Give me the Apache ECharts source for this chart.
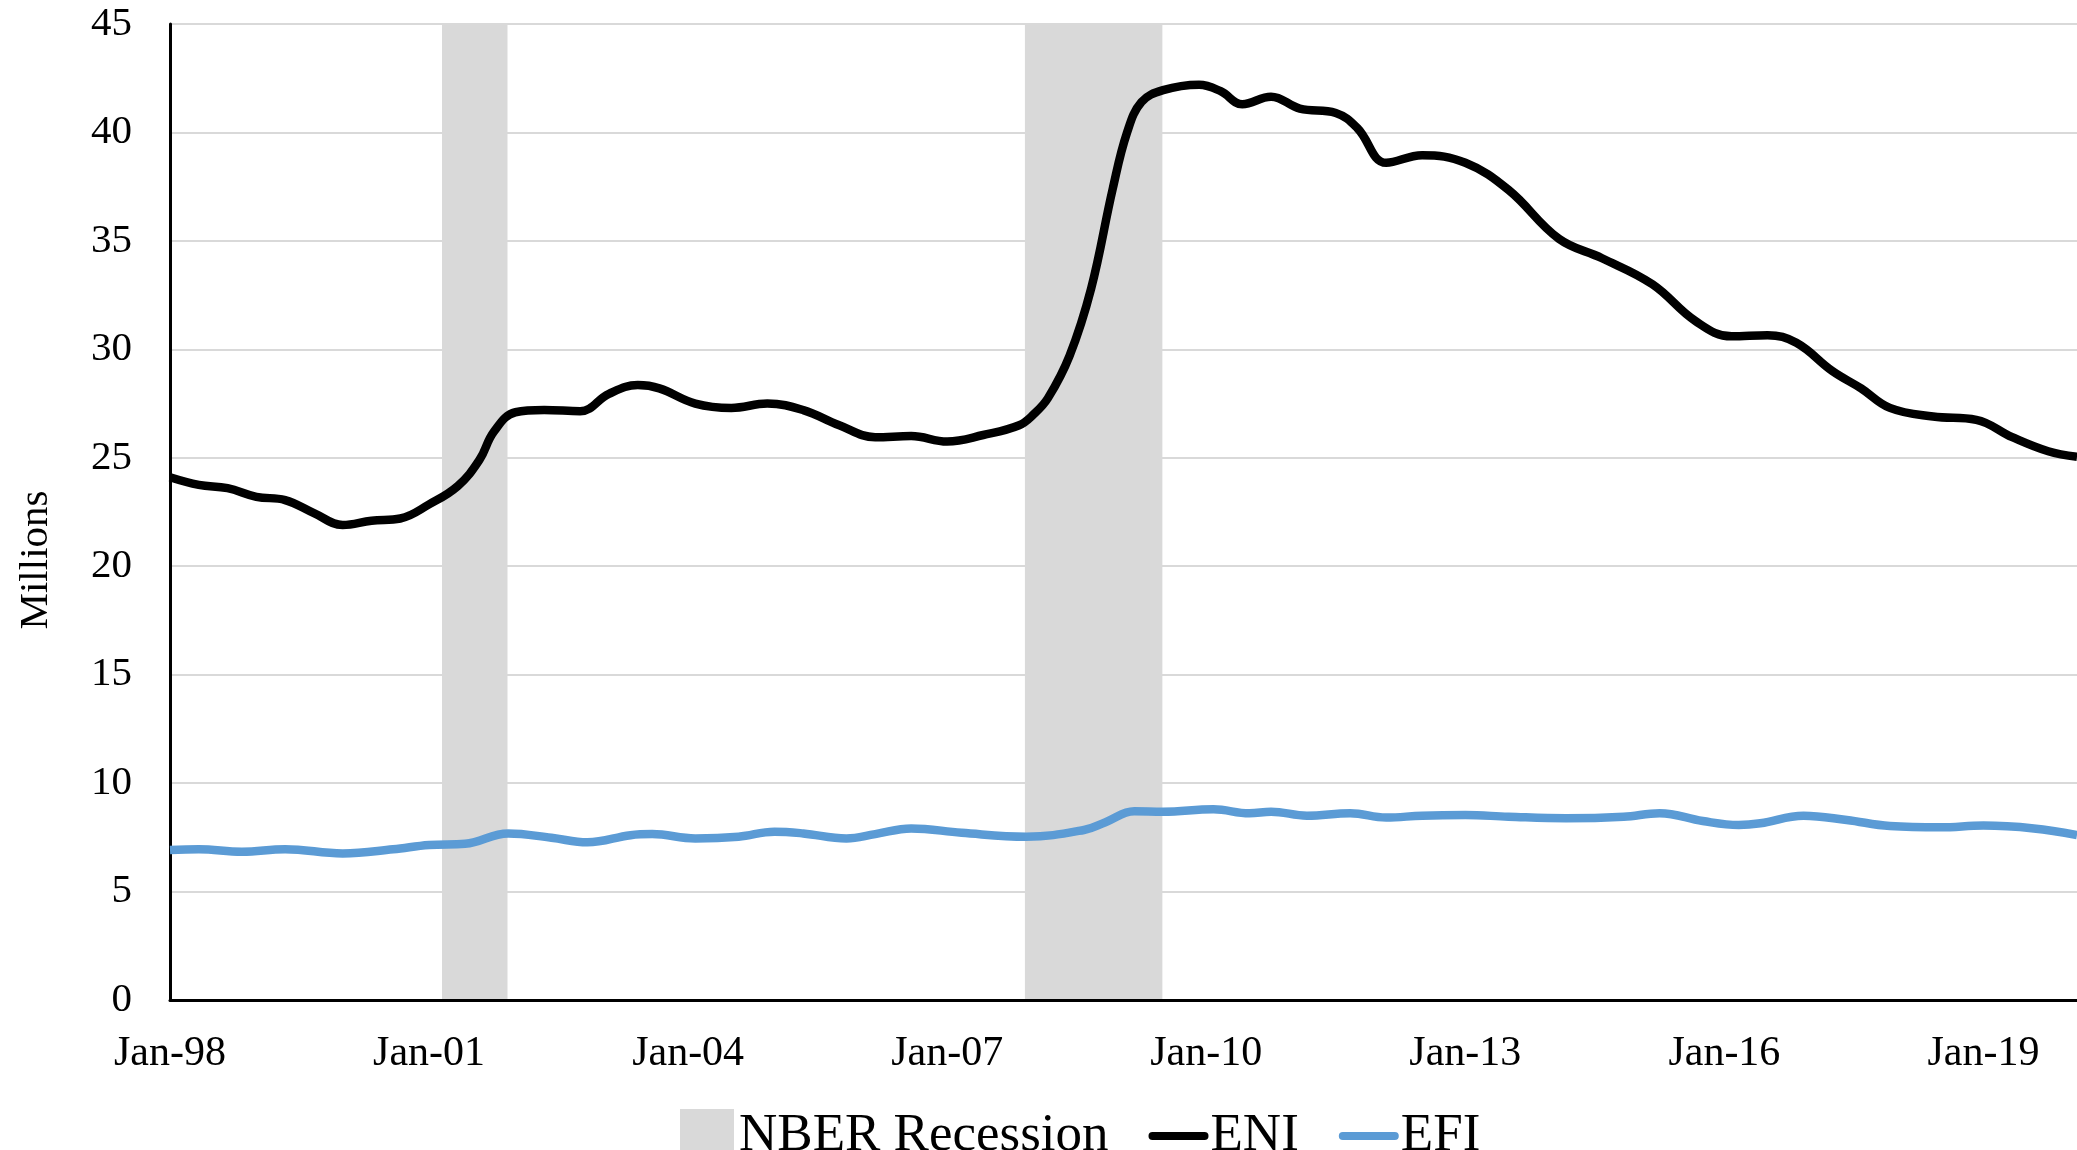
<!DOCTYPE html>
<html>
<head>
<meta charset="utf-8">
<script src="https://cdn.jsdelivr.net/npm/echarts@6/dist/echarts.min.js"></script>
<style>
  html, body { margin: 0; padding: 0; background: #ffffff; }
  #chart { width: 2077px; height: 1150px; }
</style>
</head>
<body>
<div id="chart"></div>
<script>
// ---- Data ----
const xTickLabels = ['Jan-98', 'Jan-01', 'Jan-04', 'Jan-07', 'Jan-10', 'Jan-13', 'Jan-16', 'Jan-19'];
const yTicks = [0, 5, 10, 15, 20, 25, 30, 35, 40, 45];

const eniDates = ['1998-01','1998-05','1998-09','1999-01','1999-05','1999-09','2000-01','2000-05','2000-09',
  '2001-01','2001-05','2001-08','2001-10','2002-01','2002-05','2002-10','2003-02','2003-06','2003-09',
  '2004-02','2004-07','2004-12','2005-05','2005-10','2006-03','2006-08','2007-01','2007-06','2007-11',
  '2008-01','2008-03','2008-06','2008-09','2008-12','2009-02','2009-04','2009-07','2009-12','2010-03',
  '2010-06','2010-10','2011-02','2011-07','2011-10','2012-02','2012-07','2013-01','2013-07','2014-02',
  '2014-08','2015-03','2015-09','2016-02','2016-07','2016-11','2017-04','2017-08','2017-12','2018-06',
  '2018-12','2019-05','2019-10','2020-02'];
const eniValues = [24.1,23.75,23.6,23.2,23.05,22.45,21.9,22.1,22.2,
  22.85,23.7,24.9,26.2,27.1,27.2,27.15,27.95,28.35,28.2,
  27.5,27.3,27.5,27.2,26.5,25.95,26.0,25.75,26.05,26.5,
  27.0,27.75,29.7,32.8,37.4,40.0,41.4,41.95,42.2,41.9,
  41.3,41.65,41.1,40.9,40.2,38.6,38.95,38.6,37.35,35.1,
  34.2,33.0,31.3,30.6,30.65,30.3,29.0,28.2,27.3,26.9,
  26.75,25.95,25.3,25.05];

const efiDates = ['1998-01','1998-05','1998-11','1999-05','2000-01','2000-08','2001-01','2001-06','2001-12',
  '2002-06','2002-11','2003-05','2003-08','2004-02','2004-08','2005-01','2005-05','2005-11','2006-03',
  '2006-08','2007-03','2007-12','2008-08','2008-11','2009-03','2009-07','2010-02','2010-07','2010-10',
  '2011-03','2011-09','2012-02','2012-07','2013-01','2013-07','2014-03','2014-11','2015-04','2015-10',
  '2016-03','2016-06','2016-12','2017-06','2017-12','2018-07','2019-01','2019-08','2020-02'];
const efiValues = [6.92,6.95,6.84,6.95,6.76,6.95,7.15,7.2,7.68,
  7.48,7.27,7.6,7.65,7.45,7.53,7.76,7.68,7.45,7.65,
  7.91,7.71,7.53,7.84,8.2,8.7,8.68,8.79,8.61,8.68,
  8.5,8.61,8.41,8.5,8.53,8.45,8.38,8.45,8.61,8.25,
  8.07,8.15,8.5,8.3,8.02,7.96,8.04,7.91,7.61];

const recessionStarts = ['2001-03', '2007-12'];
const recessionEnds   = ['2001-11', '2009-06'];

const firstMonth = '1998-01';
const lastMonth = '2020-02';

// ---- Helpers ----
function monthIndex(s) {
  const [y, m] = s.split('-').map(Number);
  const [y0, m0] = firstMonth.split('-').map(Number);
  return (y - y0) * 12 + (m - m0);
}
const pairs = (dates, vals) => dates.map((d, i) => [monthIndex(d), vals[i]]);

const FONT = '"Liberation Serif", "Times New Roman", Times, serif';

const recessionAreas = recessionStarts.map((s, i) => [
  { xAxis: monthIndex(s) - 0.2, yAxis: yTicks[0] },
  { xAxis: monthIndex(recessionEnds[i]) + 0.9, yAxis: yTicks[yTicks.length - 1] }
]);

const chart = echarts.init(document.getElementById('chart'), null, { renderer: 'canvas' });

chart.setOption({
  animation: false,
  backgroundColor: '#ffffff',
  grid: { left: 170, right: 0, top: 24, bottom: 150, containLabel: false },
  xAxis: {
    type: 'value',
    min: 0,
    max: monthIndex(lastMonth),
    interval: 36,
    z: 10,
    axisLine: { show: true, lineStyle: { color: '#000000', width: 3 } },
    axisTick: { show: false },
    splitLine: { show: false },
    axisLabel: {
      margin: 33,
      fontFamily: FONT,
      fontSize: 42,
      color: '#000000',
      showMaxLabel: false,
      formatter: v => (v % 36 === 0 && xTickLabels[v / 36]) ? xTickLabels[v / 36] : ''
    }
  },
  yAxis: {
    type: 'value',
    min: yTicks[0],
    max: yTicks[yTicks.length - 1],
    interval: 5,
    axisLine: { show: true, lineStyle: { color: '#000000', width: 3 } },
    axisTick: { show: false },
    splitLine: { show: true, lineStyle: { color: '#d9d9d9', width: 2 } },
    axisLabel: { margin: 38, fontFamily: FONT, fontSize: 41, color: '#000000' }
  },
  graphic: [{
    type: 'text',
    x: 36, y: 560,
    rotation: Math.PI / 2,
    style: {
      text: 'Millions',
      font: '41px ' + FONT,
      fill: '#000000',
      textAlign: 'center',
      textVerticalAlign: 'middle'
    }
  }],
  legend: {
    left: 675,
    top: 1104,
    itemWidth: 60,
    itemHeight: 54,
    itemGap: 40,
    textStyle: { fontFamily: FONT, fontSize: 53, color: '#000000', padding: [0, 0, 0, -3] },
    data: [
      { name: 'NBER Recession', icon: 'path://M0,0h10v10h-10z' },
      { name: 'ENI', icon: 'path://M4,0h52a4,4 0 0 1 0,8h-52a4,4 0 0 1 0,-8z' },
      { name: 'EFI', icon: 'path://M4,0h52a4,4 0 0 1 0,8h-52a4,4 0 0 1 0,-8z' }
    ]
  },
  series: [
    {
      name: 'NBER Recession',
      type: 'line',
      data: [],
      itemStyle: { color: '#d9d9d9' },
      lineStyle: { color: '#d9d9d9' },
      markArea: {
        silent: true,
        itemStyle: { color: '#d9d9d9', opacity: 1 },
        data: recessionAreas
      },
      z: 1
    },
    {
      name: 'ENI',
      type: 'line',
      data: pairs(eniDates, eniValues),
      smooth: 0.4,
      showSymbol: false,
      itemStyle: { color: '#000000' },
      lineStyle: { color: '#000000', width: 8.5 },
      z: 3
    },
    {
      name: 'EFI',
      type: 'line',
      data: pairs(efiDates, efiValues),
      smooth: 0.4,
      showSymbol: false,
      itemStyle: { color: '#5b9bd5' },
      lineStyle: { color: '#5b9bd5', width: 8.5 },
      z: 3
    }
  ]
});
</script>
</body>
</html>
